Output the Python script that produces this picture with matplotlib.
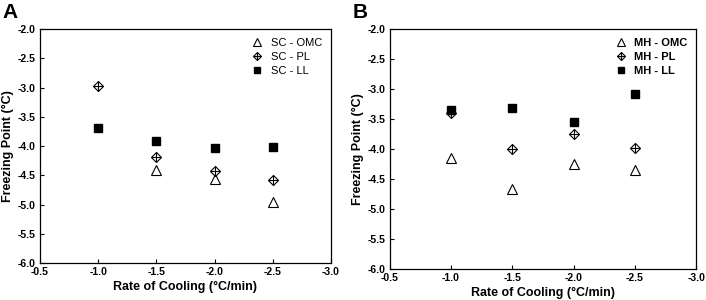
import numpy as np
import matplotlib.pyplot as plt
from matplotlib.lines import Line2D

plt.rcParams['font.family'] = ['Liberation Sans', 'DejaVu Sans']

rates = [-1.0, -1.5, -2.0, -2.5]

# panel A (SC)
sc_omc = [np.nan, -4.40, -4.57, -4.95]
sc_pl = [-2.98, -4.19, -4.42, -4.58]
sc_ll = [-3.69, -3.92, -4.04, -4.01]

# panel B (MH)
mh_omc = [-4.15, -4.67, -4.24, -4.34]
mh_pl = [-3.40, -3.99, -3.74, -3.98]
mh_ll = [-3.35, -3.31, -3.54, -3.08]

xticks = [-0.5, -1.0, -1.5, -2.0, -2.5, -3.0]
yticks = [-2.0, -2.5, -3.0, -3.5, -4.0, -4.5, -5.0, -5.5, -6.0]

fig = plt.figure(figsize=(7.06, 3.0), dpi=100)


def draw_panel(ax, omc, pl, ll, prefix, bold_legend):
    ax.plot(rates, omc, linestyle='none', marker='^', markersize=6.5,
            markerfacecolor='white', markeredgecolor='black', markeredgewidth=0.8)
    ax.plot(rates, pl, linestyle='none', marker='D', markersize=5,
            markerfacecolor='white', markeredgecolor='black', markeredgewidth=0.8)
    ax.plot(rates, pl, linestyle='none', marker='+', markersize=7,
            color='black', markeredgewidth=0.8)
    ax.plot(rates, ll, linestyle='none', marker='s', markersize=5.5,
            color='black')

    ax.set_xlim(-0.5, -3.0)
    ax.set_ylim(-6.0, -2.0)
    ax.set_xticks(xticks)
    ax.set_yticks(yticks)
    ax.set_xticklabels([f'{v:.1f}' for v in xticks], fontweight='bold', fontsize=7.5)
    ax.set_yticklabels([f'{v:.1f}' for v in yticks], fontweight='bold', fontsize=7.5)
    ax.tick_params(direction='in', length=3, width=0.8, pad=3)
    for s in ax.spines.values():
        s.set_linewidth(0.9)
    ax.set_xlabel('Rate of Cooling (°C/min)', fontweight='bold', fontsize=9, labelpad=3)
    ax.set_ylabel('Freezing Point (°C)', fontweight='bold', fontsize=9, labelpad=3)

    h_omc = Line2D([], [], linestyle='none', marker='^', markersize=5.5,
                   markerfacecolor='white', markeredgecolor='black', markeredgewidth=0.8)
    h_d = Line2D([], [], linestyle='none', marker='D', markersize=4.5,
                 markerfacecolor='white', markeredgecolor='black', markeredgewidth=0.8)
    h_p = Line2D([], [], linestyle='none', marker='+', markersize=6,
                 color='black', markeredgewidth=0.8)
    h_ll = Line2D([], [], linestyle='none', marker='s', markersize=5, color='black')
    leg = ax.legend([h_omc, (h_d, h_p), h_ll],
                    [f'{prefix} - OMC', f'{prefix} - PL', f'{prefix} - LL'],
                    loc='upper right', frameon=False,
                    handlelength=1.2, handletextpad=0.6, labelspacing=0.35,
                    borderaxespad=0.4,
                    prop={'weight': 'bold' if bold_legend else 'normal', 'size': 8})
    return leg


axA = fig.add_axes([0.0567, 0.123, 0.412, 0.780])
draw_panel(axA, sc_omc, sc_pl, sc_ll, 'SC', False)
axB = fig.add_axes([0.552, 0.103, 0.434, 0.800])
draw_panel(axB, mh_omc, mh_pl, mh_ll, 'MH', True)

fig.text(0.003, 0.99, 'A', fontsize=15, fontweight='bold', va='top', ha='left')
fig.text(0.500, 0.99, 'B', fontsize=15, fontweight='bold', va='top', ha='left')

fig.savefig('out.png', dpi=100)
